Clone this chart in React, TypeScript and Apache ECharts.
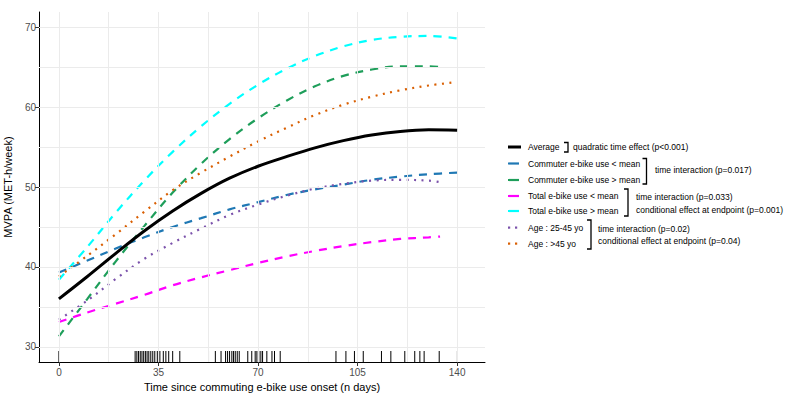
import React, { useEffect, useRef } from "react";
import * as echarts from "echarts";

// ---- data ----
const days = [0, 10, 20, 30, 40, 50, 60, 70, 80, 90, 100, 110, 120, 130, 140];
const daysShort = [0, 10, 20, 30, 40, 50, 60, 70, 80, 90, 100, 110, 120, 130, 134];
const daysOlder = [0, 10, 20, 30, 40, 50, 60, 70, 80, 90, 100, 110, 120, 130, 139];

const average = [36.0, 38.8, 41.7, 44.5, 47.0, 49.2, 51.1, 52.6, 53.8, 54.9, 55.8, 56.5, 56.95, 57.15, 57.1];
const commuterLow = [39.3, 40.8, 42.3, 43.7, 45.0, 46.1, 47.2, 48.1, 49.0, 49.7, 50.3, 50.9, 51.3, 51.6, 51.8];
const commuterHigh = [31.3, 36.0, 40.7, 45.1, 49.3, 52.9, 56.0, 58.6, 60.8, 62.6, 63.9, 64.7, 65.1, 65.1, 65.0];
const totalLow = [33.1, 34.3, 35.4, 36.5, 37.7, 38.7, 39.6, 40.5, 41.3, 42.0, 42.6, 43.1, 43.5, 43.7, 43.8];
const totalHigh = [38.4, 42.5, 46.8, 50.8, 54.4, 57.6, 60.4, 62.8, 64.8, 66.4, 67.6, 68.4, 68.8, 68.9, 68.6];
const age2545 = [33.4, 35.8, 38.5, 41.0, 43.0, 44.8, 46.5, 47.8, 48.9, 49.8, 50.4, 50.8, 50.9, 50.8, 50.6];
const age45 = [38.8, 41.4, 44.1, 46.9, 49.6, 51.8, 53.8, 55.7, 57.4, 59.0, 60.3, 61.3, 62.1, 62.7, 63.1];

const rugDays = [
  0, 26.8, 27.4, 28, 28.6, 29.2, 29.8, 30.4, 31, 31.6, 32.3, 33, 33.7, 34.6, 35.5, 36.7, 37.6, 38.6, 40, 42.5,
  52.6, 55, 57, 58.6, 59.3, 60, 60.8, 61.4, 62, 62.7, 63.4, 66.4, 67.8, 69, 69.6, 70.3, 71, 71.6, 73.1, 74.9,
  75.8, 77.8, 97.4, 100.9, 103.9, 107, 113.4, 116.7, 121.6, 125.1, 126.9, 128.4, 133.7, 140.1,
];

const xTicks = [0, 35, 70, 105, 140];
const xGrid = [0, 17.5, 35, 52.5, 70, 87.5, 105, 122.5, 140];
const yTicks = [30, 40, 50, 60, 70];
const yGrid = [30, 35, 40, 45, 50, 55, 60, 65, 70];

const legendLabels = [
  "Average",
  "Commuter e-bike use < mean",
  "Commuter e-bike use > mean",
  "Total e-bike use < mean",
  "Total e-bike use > mean",
  "Age : 25-45 yo",
  "Age : >45 yo",
];
const annotations = [
  "quadratic time effect (p<0.001)",
  "time interaction (p=0.017)",
  "time interaction (p=0.033)",
  "conditional effect at endpoint (p=0.001)",
  "time interaction (p=0.02)",
  "conditional effect at endpoint (p=0.04)",
];

const FONT = "'Liberation Sans', Arial, sans-serif";
const X_MIN = -7;
const X_MAX = 149.8;
const Y_MIN = 28.1;
const Y_MAX = 71.9;

const DASH = [8, 7];
const DOT = [2, 5.5];

type Sty = { color: string; width: number; dash: number[] | "solid"; kind: "line" | "dot" };
const styles: Sty[] = [
  { color: "#000000", width: 3, dash: "solid", kind: "line" },
  { color: "#1F78B4", width: 2.2, dash: DASH, kind: "line" },
  { color: "#1E9E5A", width: 2.2, dash: DASH, kind: "line" },
  { color: "#FF00FF", width: 2.2, dash: DASH, kind: "line" },
  { color: "#00FFFF", width: 2.2, dash: DASH, kind: "line" },
  { color: "#7B52AB", width: 2.2, dash: DOT, kind: "dot" },
  { color: "#D95F02", width: 2.2, dash: DOT, kind: "dot" },
];

const zip = (xs: number[], ys: number[]) => xs.map((x, i) => [x, ys[i]]);

export default function App() {
  const ref = useRef<HTMLDivElement>(null);

  useEffect(() => {
    document.body.style.margin = "0";
    if (!ref.current) return;
    const chart = echarts.init(ref.current, undefined, { renderer: "svg" });

    const seriesData: [number[], number[]][] = [
      [days, average],
      [days, commuterLow],
      [daysShort, commuterHigh],
      [daysShort, totalLow],
      [days, totalHigh],
      [daysShort, age2545],
      [daysOlder, age45],
    ];
    const drawOrder = [1, 2, 3, 4, 5, 6, 0];

    const lineSeries = drawOrder.map((i) => ({
      type: "line",
      name: legendLabels[i],
      data: zip(seriesData[i][0], seriesData[i][1]),
      smooth: 0.35,
      showSymbol: false,
      silent: true,
      z: i === 0 ? 5 : 3,
      lineStyle: {
        color: styles[i].color,
        width: styles[i].width,
        type: styles[i].dash,
        cap: "butt",
      },
    }));

    // legend graphics
    const rowsY = [147, 163.5, 180, 196, 211, 227.5, 243.5];
    const keyX1 = 508;
    const keyX2 = 521;
    const textX = 528;
    const g: any[] = [];
    styles.forEach((s, i) => {
      const y = rowsY[i];
      if (s.kind === "dot") {
        [509, 516].forEach((cx) =>
          g.push({ type: "rect", shape: { x: cx - 1, y: y - 1, width: 2.2, height: 2.2 }, style: { fill: s.color } })
        );
      } else {
        g.push({
          type: "line",
          shape: { x1: keyX1, y1: y, x2: keyX2, y2: y },
          style: { stroke: s.color, lineWidth: s.width, lineDash: s.dash === "solid" ? null : [11, 3] },
        });
      }
      g.push({
        type: "text",
        x: textX,
        y,
        style: { text: legendLabels[i], fontSize: 8.5, fontFamily: FONT, fill: "#000", verticalAlign: "middle", align: "left" },
      });
    });
    const bracket = (x: number, top: number, bottom: number) => ({
      type: "polyline",
      shape: { points: [[x - 4, top], [x, top], [x, bottom], [x - 4, bottom]] },
      style: { stroke: "#000", lineWidth: 1.3, fill: null },
    });
    g.push(bracket(568, 142.5, 152));
    g.push(bracket(646.5, 158.5, 184));
    g.push(bracket(628, 189, 216));
    g.push(bracket(591, 220, 249));
    const annPos = [
      [573, 147],
      [655, 170],
      [636, 197],
      [636, 210],
      [598, 228.5],
      [598, 241],
    ];
    annotations.forEach((t, i) =>
      g.push({
        type: "text",
        x: annPos[i][0],
        y: annPos[i][1],
        style: { text: t, fontSize: 8.5, fontFamily: FONT, fill: "#000", verticalAlign: "middle", align: "left" },
      })
    );

    chart.setOption({
      animation: false,
      textStyle: { fontFamily: FONT },
      grid: { left: 39, top: 12, width: 446, height: 350, containLabel: false, outerBoundsMode: "none" },
      xAxis: {
        type: "value",
        min: X_MIN,
        max: X_MAX,
        name: "Time since commuting e-bike use onset (n days)",
        nameLocation: "middle",
        nameGap: 15,
        nameTextStyle: { fontSize: 11, color: "#000", fontFamily: FONT, verticalAlign: "top" },
        axisLine: { show: true, onZero: false, lineStyle: { color: "#000", width: 1 } },
        axisTick: { show: true, customValues: xTicks, length: 4, lineStyle: { color: "#333" } },
        axisLabel: { show: true, customValues: xTicks, color: "#4d4d4d", fontSize: 10, margin: 5, fontFamily: FONT },
        splitLine: { show: false },
      },
      yAxis: {
        type: "value",
        min: Y_MIN,
        max: Y_MAX,
        name: "MVPA (MET-h/week)",
        nameLocation: "middle",
        nameGap: 20,
        nameTextStyle: { fontSize: 11, color: "#000", fontFamily: FONT },
        axisLine: { show: true, onZero: false, lineStyle: { color: "#000", width: 1 } },
        axisTick: { show: true, customValues: yTicks, length: 4, lineStyle: { color: "#333" } },
        axisLabel: { show: true, customValues: yTicks, color: "#4d4d4d", fontSize: 10, margin: 3, fontFamily: FONT },
        splitLine: { show: false },
      },
      series: [
        {
          // carrier for the panel grid lines (invisible line along the rug)
          type: "line",
          data: rugDays.map((d) => [d, Y_MIN]),
          showSymbol: false,
          silent: true,
          z: 0,
          lineStyle: { opacity: 0 },
          markLine: {
            silent: true,
            symbol: ["none", "none"],
            label: { show: false },
            lineStyle: { color: "#ebebeb", width: 1, type: "solid" },
            data: [...xGrid.map((v) => ({ xAxis: v })), ...yGrid.map((v) => ({ yAxis: v }))],
          },
        },
        {
          type: "custom",
          silent: true,
          z: 2,
          data: rugDays.map((d) => [d, Y_MIN]),
          encode: { x: 0, y: 1 },
          renderItem: (params: any, api: any) => {
            const p = api.coord([api.value(0), Y_MIN]);
            return {
              type: "line",
              shape: { x1: p[0], y1: p[1], x2: p[0], y2: p[1] - 11 },
              style: { stroke: "#000", lineWidth: 1 },
            };
          },
        },
        ...lineSeries,
      ],
      graphic: g,
    });

    return () => chart.dispose();
  }, []);

  return <div ref={ref} style={{ position: "absolute", left: 0, top: 0, width: 796, height: 396 }} />;
}
